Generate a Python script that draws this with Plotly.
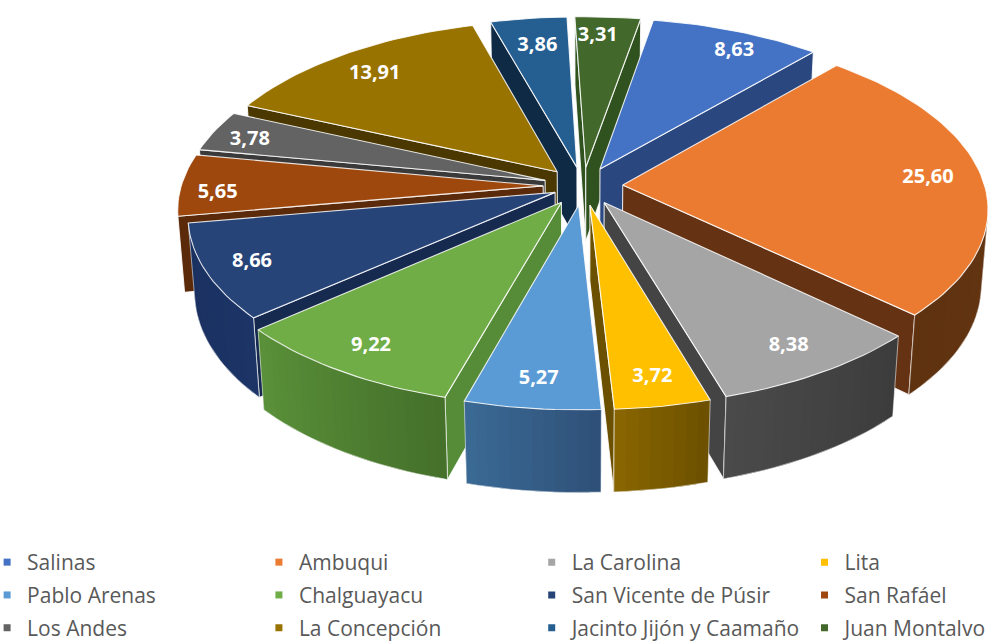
import math
import plotly.graph_objects as go

categories = ["Salinas","Ambuqui","La Carolina","Lita","Pablo Arenas","Chalguayacu","San Vicente de Púsir","San Rafáel","Los Andes","La Concepción","Jacinto Jijón y Caamaño","Juan Montalvo"]
values = [8.63,25.60,8.38,3.72,5.27,9.22,8.66,5.65,3.78,13.91,3.86,3.31]
labels = ["8,63","25,60","8,38","3,72","5,27","9,22","8,66","5,65","3,78","13,91","3,86","3,31"]
top_colors = ["#4472C4","#EB7B31","#A5A5A5","#FFC000","#5B9BD5","#70AD47","#264478","#9E480E","#636363","#997300","#255E91","#43682B"]
radial_colors = ["#2A4780","#653314","#444444","#6B5000","#3A5F85","#568B38","#16294F","#5A2A0A","#3A3A3A","#4A3800","#0F2A45","#30521F"]
outer_start = ["#2A4780","#6B3A15","#3C3C3C","#6B5000","#2F5078","#45702B","#1C3566","#5A2A0A","#3A3A3A","#4A3800","#0F2A45","#30521F"]
outer_end = ["#2A4780","#5F3210","#4A4A4A","#8A6600","#3A6A95","#5A9139","#1A3060","#5A2A0A","#3A3A3A","#4A3800","#0F2A45","#30521F"]
pulls = [0.11,0.11,0.11,0.11,0.11,0.11,0.085,0.11,0.11,0.11,0.11,0.11]
label_radius = [0.87,0.85,0.86,0.87,0.87,0.87,0.875,0.895,0.88,0.83,0.80,0.86]
label_turn = [3,0,0,0,0,0,0,-3,-1.5,-1,0,-1.5]

START, HEIGHT = 10.0, 0.24
ELEV, DIST, SCALE, CX, CY = math.asin(0.48), 7.0, 362.0, 583.0, 186.0
total = sum(values)


def project(x, y, z):
    w = (DIST + y * math.cos(ELEV) - z * math.sin(ELEV)) / DIST
    return CX + SCALE * x / w, CY - SCALE * (y * math.sin(ELEV) + z * math.cos(ELEV)) / w


def path(points):
    pts = [project(*p) for p in points]
    pts.append(pts[0])
    return [p[0] for p in pts], [p[1] for p in pts]


def mix(a, b, f):
    ca = [int(a[p:p + 2], 16) for p in (1, 3, 5)]
    cb = [int(b[p:p + 2], 16) for p in (1, 3, 5)]
    return "#%02x%02x%02x" % tuple(round(u + (v - u) * f) for u, v in zip(ca, cb))


slices = []
acc = START
for i, v in enumerate(values):
    a0, a1 = acc, acc + v / total * 360
    acc = a1
    slices.append((i, a0, a1, math.radians((a0 + a1) / 2)))

fig = go.Figure()
EDGE = dict(color="rgba(255,255,255,0.85)", width=1.1)
SOFT = dict(color="rgba(255,255,255,0.55)", width=1)
facing = DIST * math.cos(ELEV)


def poly(points, color, line=None):
    xs, ys = path(points)
    fig.add_trace(go.Scatter(x=xs, y=ys, mode="lines" if line else "none", fill="toself", fillcolor=color,
                             line=line, showlegend=False, hoverinfo="skip"))


def stroke(points, line):
    pts = [project(*p) for p in points]
    fig.add_trace(go.Scatter(x=[p[0] for p in pts], y=[p[1] for p in pts], mode="lines", line=line,
                             showlegend=False, hoverinfo="skip"))


for i, a0, a1, mid in sorted(slices, key=lambda s: -math.cos(s[3])):
    ox, oy = pulls[i] * math.sin(mid), pulls[i] * math.cos(mid)
    n = max(3, int((a1 - a0) / 1.5))
    rim = []
    for k in range(n + 1):
        t = math.radians(a0 + (a1 - a0) * k / n)
        rim.append((ox + math.sin(t), oy + math.cos(t), math.cos(t)))
    # radial walls: only the ones that face the viewer
    ra0, ra1 = math.radians(a0), math.radians(a1)
    normals = [(-math.cos(ra0), math.sin(ra0)), (math.cos(ra1), -math.sin(ra1))]
    for r, nrm in zip((rim[0], rim[-1]), normals):
        if nrm[0] * ox + nrm[1] * (oy + facing) < 0:
            poly([(ox, oy, 0), (r[0], r[1], 0), (r[0], r[1], -HEIGHT), (ox, oy, -HEIGHT)], radial_colors[i], EDGE)
    # outer wall: only arc steps that face the viewer, each overlapping the next to hide seams
    visible = [k for k in range(n) if 1 + facing * rim[k][2] < 0 and 1 + facing * rim[k + 1][2] < 0]
    for k in visible:
        p, q = rim[k], rim[min(k + 2, n) if k + 1 in visible else k + 1]
        poly([(p[0], p[1], 0), (q[0], q[1], 0), (q[0], q[1], -HEIGHT), (p[0], p[1], -HEIGHT)],
             mix(outer_start[i], outer_end[i], (k + 0.5) / n))
    if visible:
        arc = rim[visible[0]:visible[-1] + 2]
        stroke([(p[0], p[1], -HEIGHT) for p in arc], SOFT)
        for r in (arc[0], arc[-1]):
            stroke([(r[0], r[1], 0), (r[0], r[1], -HEIGHT)], SOFT)
    # top face
    poly([(ox, oy, 0)] + [(p[0], p[1], 0) for p in rim], top_colors[i], EDGE)

# value labels
tx, ty = [], []
for (i, a0, a1, mid) in slices:
    r, t = label_radius[i], mid + math.radians(label_turn[i])
    sx, sy = project(pulls[i] * math.sin(mid) + r * math.sin(t), pulls[i] * math.cos(mid) + r * math.cos(t), 0)
    tx.append(sx); ty.append(sy)
fig.add_trace(go.Scatter(x=tx, y=ty, mode="text", text=labels, showlegend=False, hoverinfo="skip", cliponaxis=False,
                         textfont=dict(family="Open Sans", size=20, color="white", weight="bold")))

# legend keys: four column legends, read row by row as in the source
for j, (name, color) in enumerate(zip(categories, top_colors)):
    column = j % 4
    fig.add_trace(go.Scatter(x=[None], y=[None], mode="markers", name=name, legendgroup=name,
                             legend="legend" if column == 0 else "legend%d" % (column + 1),
                             marker=dict(symbol="square", size=7, color=color)))

legend_style = dict(y=0.1571, xanchor="left", yanchor="top", font=dict(size=21), traceorder="grouped",
                    tracegroupgap=2.5, bgcolor="rgba(0,0,0,0)")
fig.update_layout(
    width=992, height=643, margin=dict(l=0, r=0, t=0, b=0, autoexpand=False), paper_bgcolor="white", plot_bgcolor="white",
    font=dict(family="Open Sans", size=21, color="#595959"),
    xaxis=dict(visible=False, range=[0, 992], fixedrange=True),
    yaxis=dict(visible=False, range=[643, 0], fixedrange=True),
    legend=dict(x=-0.013, **legend_style),
    legend2=dict(x=0.261, **legend_style),
    legend3=dict(x=0.536, **legend_style),
    legend4=dict(x=0.811, **legend_style),
)
fig.write_html("out.html", config=dict(displayModeBar=False),
               post_script="document.body.style.margin='0';document.body.style.overflow='hidden';")
